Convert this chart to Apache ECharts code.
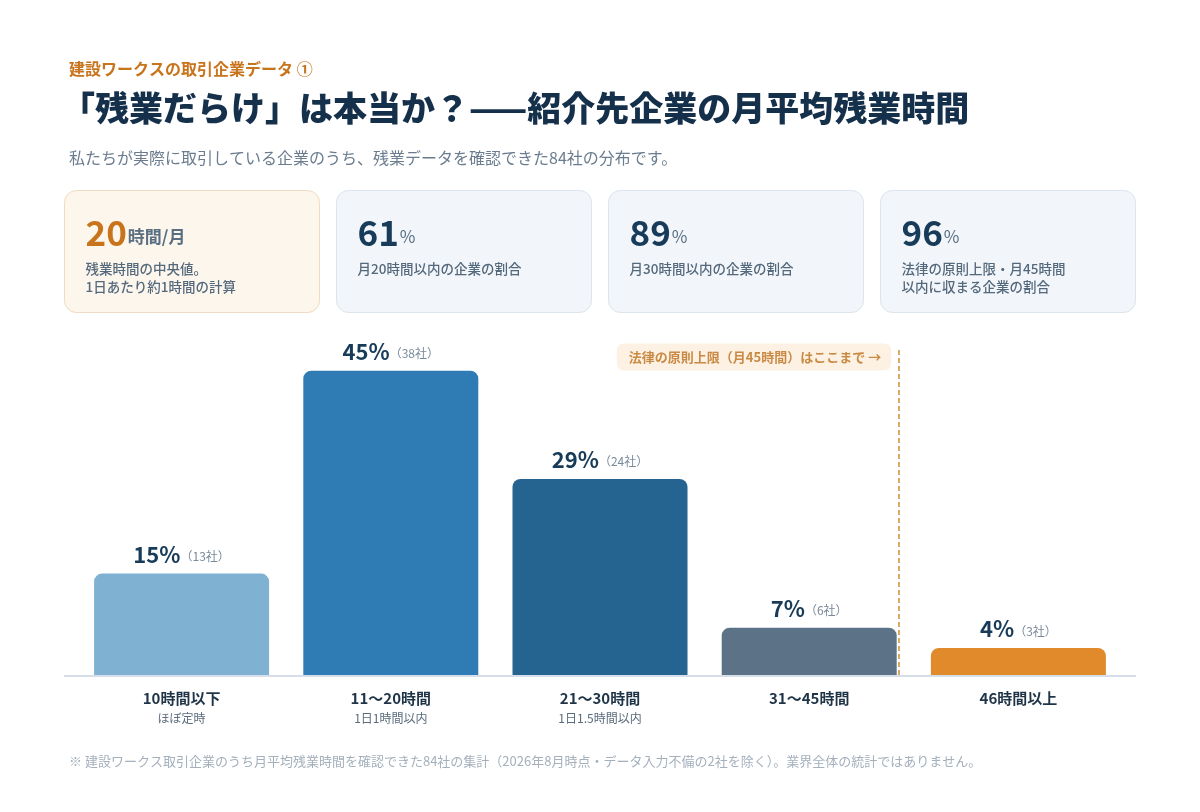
<!DOCTYPE html>
<html>
<head>
<meta charset="utf-8">
<script src="https://cdn.jsdelivr.net/npm/echarts@6/dist/echarts.min.js"></script>
<style>
  html, body { margin: 0; padding: 0; background: #fff; }
  #chart { width: 1200px; height: 812px; }
</style>
</head>
<body>
<div id="chart"></div>
<script>
var categories = ['10時間以下', '11〜20時間', '21〜30時間', '31〜45時間', '46時間以上'];
var subLabels = ['ほぼ定時', '1日1時間以内', '1日1.5時間以内', '', ''];
var percents = [15, 45, 29, 7, 4];
var companies = [13, 38, 24, 6, 3];
var barColors = ['#7fb1d3', '#2f7cb4', '#256490', '#5c7387', '#e08a2b'];

var cardValues = ['20', '61', '89', '96'];
var cardUnits = ['時間/月', '%', '%', '%'];
var cardTexts = [
    '残業時間の中央値。\n1日あたり約1時間の計算',
    '月20時間以内の企業の割合',
    '月30時間以内の企業の割合',
    '法律の原則上限・月45時間\n以内に収まる企業の割合'
];
var limitPosition = 3.43; // 31〜45 と 46以上 の間
var limitText = '法律の原則上限（月45時間）はここまで →';

var FONT = '"Noto Sans CJK JP", "Noto Sans", sans-serif';

var dom = document.getElementById('chart');
var myChart = echarts.init(dom);

// 上のカード
var cards = [];
for (var i = 0; i < 4; i++) {
    var hi = i === 0;
    cards.push({
        type: 'group',
        left: 64 + i * 272,
        top: 190,
        children: [{
            type: 'rect',
            shape: { x: 0, y: 0, width: 255, height: 122, r: 12 },
            style: { fill: hi ? '#fcf6ec' : '#f2f6fa', stroke: hi ? '#efdcc0' : '#dce4ed', lineWidth: 1 }
        }, {
            type: 'text',
            x: 21, y: 42,
            style: {
                text: '{v|' + cardValues[i] + '}{u|' + cardUnits[i] + '}',
                verticalAlign: 'middle',
                rich: {
                    v: { fontFamily: FONT, fontSize: 35, fontWeight: 'bold', fill: hi ? '#c8741c' : '#173b58' },
                    u: { fontFamily: FONT, fontSize: 17, fontWeight: hi ? 'bold' : 'normal', fill: '#5a6e82', padding: [8, 0, 0, 1] }
                }
            }
        }, {
            type: 'text',
            x: 21, y: 69,
            style: {
                text: cardTexts[i],
                fontFamily: FONT, fontSize: 13.5, fontWeight: 500, fill: '#55697d', lineHeight: 18, verticalAlign: 'top'
            }
        }]
    });
}

myChart.setOption({
    backgroundColor: '#ffffff',
    textStyle: { fontFamily: FONT },
    title: [{
        text: '建設ワークスの取引企業データ ①',
        left: 64, top: 56,
        textStyle: { fontFamily: FONT, fontSize: 16, fontWeight: 'bold', color: '#c8741c' }
    }, {
        text: '「残業だらけ」は本当か？——紹介先企業の月平均残業時間',
        left: 56, top: 86,
        textStyle: { fontFamily: FONT, fontSize: 34, fontWeight: 900, color: '#15304a' }
    }, {
        text: '私たちが実際に取引している企業のうち、残業データを確認できた84社の分布です。',
        left: 64, top: 145,
        textStyle: { fontFamily: FONT, fontSize: 16, fontWeight: 'normal', color: '#6a7c8e' }
    }, {
        text: '※ 建設ワークス取引企業のうち月平均残業時間を確認できた84社の集計（2026年8月時点・データ入力不備の2社を除く）。業界全体の統計ではありません。',
        left: 64, top: 750,
        textStyle: { fontFamily: FONT, fontSize: 13, fontWeight: 'normal', color: '#a4b0bc' }
    }],
    graphic: cards,
    grid: { left: 77, right: 77, top: 347, bottom: 137 },
    xAxis: [{
        type: 'category',
        data: categories,
        axisTick: { show: false },
        axisLine: { show: false },
        axisLabel: {
            margin: 12,
            interval: 0,
            formatter: function (v, idx) {
                return '{a|' + v + '}\n{b|' + subLabels[idx] + '}';
            },
            rich: {
                a: { fontFamily: FONT, fontSize: 15, fontWeight: 'bold', color: '#1f3447', lineHeight: 22 },
                b: { fontFamily: FONT, fontSize: 12, color: '#5a6b7c', lineHeight: 18 }
            }
        }
    }, {
        type: 'value',
        min: -0.5,
        max: 4.5,
        show: false
    }],
    yAxis: {
        type: 'value',
        min: 0,
        max: 48.5,
        show: false,
        splitLine: { show: false }
    },
    series: [{
        name: '割合',
        type: 'bar',
        barWidth: 175,
        data: percents.map(function (v, i) {
            return { value: v, itemStyle: { color: barColors[i] } };
        }),
        itemStyle: { borderRadius: [8, 8, 0, 0] },
        label: {
            show: true,
            position: 'top',
            distance: 8,
            formatter: function (p) {
                return '{p|' + p.value + '%}{n|（' + companies[p.dataIndex] + '社）}';
            },
            rich: {
                p: { fontFamily: FONT, fontSize: 22, fontWeight: 'bold', color: '#173b58' },
                n: { fontFamily: FONT, fontSize: 12, color: '#7a8a9b', padding: [4, 0, 0, 0] }
            }
        }
    }, {
        name: 'limit',
        type: 'line',
        xAxisIndex: 1,
        data: [],
        markLine: {
            symbol: 'none',
            silent: true,
            label: { show: false },
            lineStyle: { color: '#dcaa68', width: 2, type: [5, 3] },
            data: [{ xAxis: limitPosition }]
        }
    }]
});

// 基準線と注記
var baseY = myChart.convertToPixel({ yAxisIndex: 0 }, 0);
var lineX = myChart.convertToPixel({ xAxisIndex: 1 }, limitPosition);
myChart.setOption({
    graphic: cards.concat([{
        type: 'line',
        z: 0,
        shape: { x1: 64, y1: baseY + 1, x2: 1136, y2: baseY + 1 },
        style: { stroke: '#d6dfe9', lineWidth: 2 }
    }, {
        type: 'text',
        x: lineX - 8,
        y: 357,
        style: {
            text: limitText,
            align: 'right',
            verticalAlign: 'middle',
            fontFamily: FONT,
            fontSize: 13,
            fontWeight: 'bold',
            fill: '#c98a45',
            backgroundColor: '#fcf1e3',
            borderRadius: 7,
            padding: [7, 10, 7, 12]
        }
    }])
});
</script>
</body>
</html>
